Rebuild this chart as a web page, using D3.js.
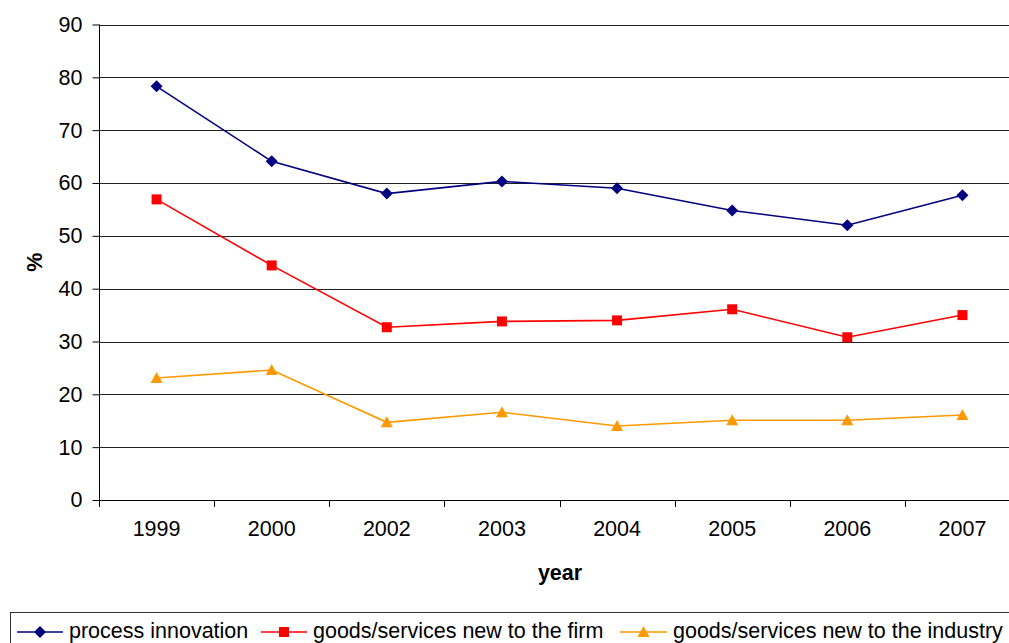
<!DOCTYPE html>
<html><head><meta charset="utf-8">
<script src="https://cdn.jsdelivr.net/npm/d3@7"></script>
<style>body{margin:0;background:#fff;overflow:hidden}svg{display:block}text{font-family:"Liberation Sans",Arial,sans-serif}</style>
</head><body><svg id="c" width="1009" height="643"></svg>
<script>
const years = ["1999","2000","2002","2003","2004","2005","2006","2007"];
const processInnovation = [78.3,64.1,58.0,60.3,59.0,54.8,52.0,57.7];
const newToFirm = [56.9,44.4,32.7,33.8,34.0,36.1,30.8,35.0];
const newToIndustry = [23.1,24.6,14.7,16.6,14.0,15.1,15.1,16.1];
const yTicks = [0,10,20,30,40,50,60,70,80,90];
const seriesNames = ["process innovation","goods/services new to the firm","goods/services new to the industry"];

const FS = 21.5;
const svg = d3.select("#c");
const L=99, R=1020, T=24.5, B=500;
const x = d3.scaleBand().domain(years).range([L,R]);
const y = d3.scaleLinear().domain([0,90]).range([B,T]);

// gridlines
svg.append("g").selectAll("line").data(yTicks.filter(d=>d>0)).join("line")
  .attr("x1",L).attr("x2",R).attr("y1",d=>Math.round(y(d))+0.5).attr("y2",d=>Math.round(y(d))+0.5)
  .attr("stroke","#222").attr("stroke-width",1);

// y axis
const ya = svg.append("g").attr("transform",`translate(${L+0.5},0)`)
  .call(d3.axisLeft(y).tickValues(yTicks).tickSize(7).tickPadding(10).tickFormat(d3.format("d")));
ya.select(".domain").attr("stroke","#000").attr("d",`M0,${T}V${B}`);
ya.selectAll(".tick line").attr("stroke","#000");
ya.selectAll("text").attr("font-size",FS).attr("fill","#000").attr("font-family","Liberation Sans, Arial, sans-serif");

// x axis
const xa = svg.append("g").attr("transform",`translate(0,${B+0.5})`)
  .call(d3.axisBottom(x).tickSize(0).tickPadding(20));
xa.select(".domain").attr("stroke","#000").attr("d",`M${L},0H${R}`);
xa.selectAll("text").attr("font-size",FS).attr("fill","#000").attr("font-family","Liberation Sans, Arial, sans-serif");
// category boundary ticks
svg.append("g").selectAll("line").data(years.concat(["end"])).join("line")
  .attr("x1",(d,i)=>Math.round(L+i*x.bandwidth())+0.5).attr("x2",(d,i)=>Math.round(L+i*x.bandwidth())+0.5)
  .attr("y1",B).attr("y2",B+7).attr("stroke","#000");

// axis titles
svg.append("text").attr("x",560).attr("y",580).attr("text-anchor","middle")
  .attr("font-weight","bold").attr("font-size",FS).text("year");
svg.append("text").attr("transform",`translate(42,${(T+B)/2}) rotate(-90)`).attr("text-anchor","middle")
  .attr("font-weight","bold").attr("font-size",FS).text("%");

const colors = ["#000080","#ff0000","#ff9900"];
const data = [processInnovation,newToFirm,newToIndustry];
const cx = d=>x(d)+x.bandwidth()/2;
const line = d3.line().x((d,i)=>cx(years[i])).y(d=>y(d));

function marker(g,type,color){
  if(type===0) g.append("path").attr("d","M0,-6L6,0L0,6L-6,0Z").attr("fill",color);
  else if(type===1) g.append("rect").attr("x",-5).attr("y",-5).attr("width",10).attr("height",10).attr("fill",color);
  else g.append("path").attr("d","M0,-6L6,5L-6,5Z").attr("fill",color);
}

data.forEach((vals,k)=>{
  svg.append("path").datum(vals).attr("d",line).attr("fill","none").attr("stroke",colors[k]).attr("stroke-width",1.6);
  vals.forEach((v,i)=>{
    const g = svg.append("g").attr("transform",`translate(${cx(years[i])},${y(v)})`);
    marker(g,k,colors[k]);
  });
});

// legend
svg.append("rect").attr("x",10.5).attr("y",612.5).attr("width",1010).attr("height",40)
  .attr("fill","none").attr("stroke","#333");
const legX = [[17,63,69],[261,307,313],[620,667,673]];
seriesNames.forEach((n,k)=>{
  const [a,b,t] = legX[k];
  svg.append("line").attr("x1",a).attr("x2",b).attr("y1",632).attr("y2",632).attr("stroke",colors[k]).attr("stroke-width",1.6);
  const g = svg.append("g").attr("transform",`translate(${(a+b)/2},632)`);
  marker(g,k,colors[k]);
  svg.append("text").attr("x",t).attr("y",637.5).attr("font-size",FS).text(n);
});
</script></body></html>
